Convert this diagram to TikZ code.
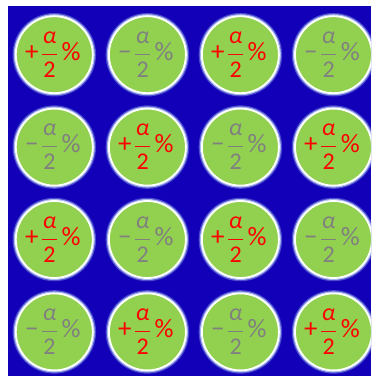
\documentclass[tikz,border=0pt]{standalone}
\usepackage{amsmath}
\usepackage{fontspec}
\setmainfont{Carlito}
\definecolor{bgblue}{RGB}{18,0,184}
\definecolor{lgreen}{RGB}{146,208,80}
\definecolor{glowblue}{RGB}{165,185,240}
\definecolor{txtgray}{RGB}{128,128,128}
\definecolor{txtred}{RGB}{255,0,0}
\newcommand\halfalpha{$\genfrac{}{}{0.9pt}{0}{\hbox{\kern0.6pt\itshape α\kern0.6pt}}{\hbox{2}}$}
\newcommand\pcsign{{\fontsize{26.5}{30}\selectfont\%}}
\newcommand\plussign{{\fontsize{27}{30}\selectfont +}}
\newcommand\minussign{{\fontsize{27}{30}\selectfont −}}
\newcommand\plustxt{\textcolor{txtred}{\plussign\hspace{2.5pt}\halfalpha\hspace{3.5pt}\pcsign}\hspace*{3pt}}
\newcommand\minustxt{\textcolor{txtgray}{\minussign\hspace{2.5pt}\halfalpha\hspace{3.5pt}\pcsign}\hspace*{3pt}}
\tikzset{
  coin/.style={circle, inner sep=0pt, minimum size=77pt, fill=lgreen,
    draw=white, line width=1.8pt,
    preaction={draw=glowblue!40!bgblue, line width=6.5pt},
    preaction={draw=glowblue, line width=4pt},
    font=\fontsize{24}{26}\selectfont}
}
\begin{document}
\begin{tikzpicture}[x=1pt,y=-1pt]
\useasboundingbox (0,0) rectangle (371,379);
\clip (0,0) rectangle (371,379);
\fill[bgblue] (8,6.5) rectangle (371,376);
\node[coin] (c11) at (54.3,54.7) {\plustxt};
\node[coin] (c12) at (147.4,54.7) {\minustxt};
\node[coin] (c13) at (240.4,54.7) {\plustxt};
\node[coin] (c14) at (333.5,54.7) {\minustxt};
\node[coin] (c21) at (54.3,147.1) {\minustxt};
\node[coin] (c22) at (147.4,147.1) {\plustxt};
\node[coin] (c23) at (240.4,147.1) {\minustxt};
\node[coin] (c24) at (333.5,147.1) {\plustxt};
\node[coin] (c31) at (54.3,239.5) {\plustxt};
\node[coin] (c32) at (147.4,239.5) {\minustxt};
\node[coin] (c33) at (240.4,239.5) {\plustxt};
\node[coin] (c34) at (333.5,239.5) {\minustxt};
\node[coin] (c41) at (54.3,331.9) {\minustxt};
\node[coin] (c42) at (147.4,331.9) {\plustxt};
\node[coin] (c43) at (240.4,331.9) {\minustxt};
\node[coin] (c44) at (333.5,331.9) {\plustxt};
\end{tikzpicture}
\end{document}
